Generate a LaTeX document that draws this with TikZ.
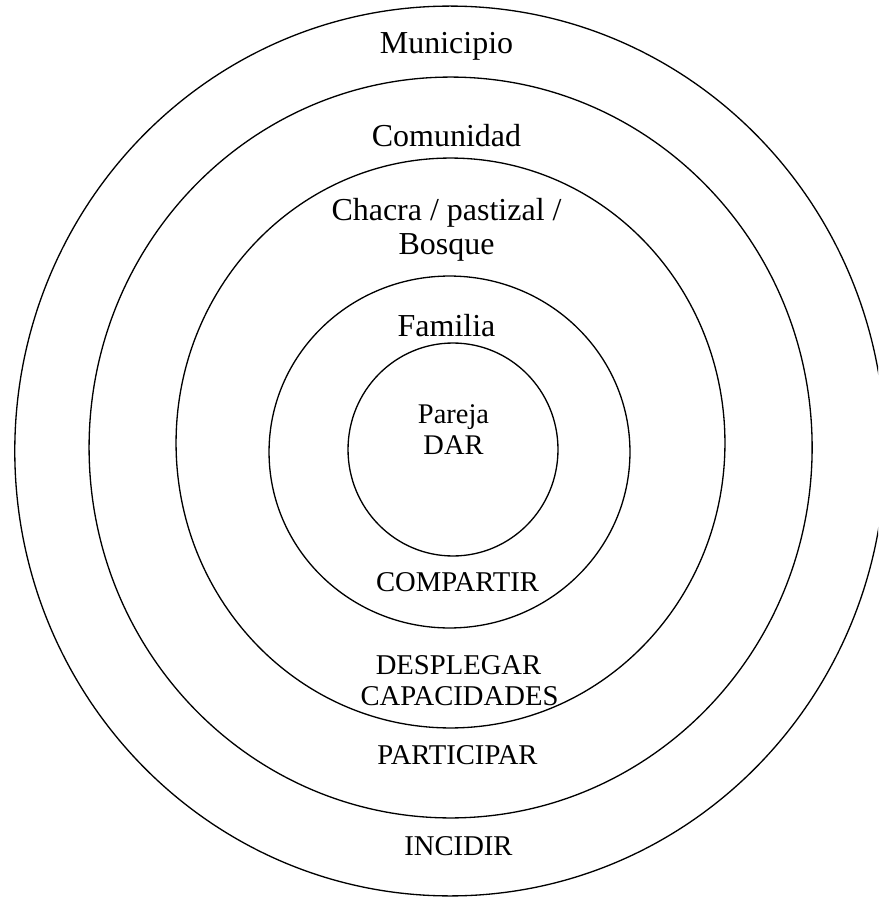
\documentclass[tikz,border=0pt]{standalone}
\usepackage{fontspec}
\setmainfont{Liberation Serif}
\tikzset{
  ring/.style={draw=black, line width=0.75pt},
  biglabel/.style={anchor=base, inner sep=0pt, font=\fontsize{18.2}{21}\selectfont},
  smalllabel/.style={anchor=base, inner sep=0pt, font=\fontsize{16.3}{19}\selectfont},
  midlabel/.style={anchor=base, inner sep=0pt, font=\fontsize{16.2}{19}\selectfont}
}
\begin{document}
\begin{tikzpicture}[x=0.02cm, y=-0.02cm]
\useasboundingbox (0,0) rectangle (878,898);
\begin{scope}
\clip (0,0) rectangle (878,898);
\draw[ring] (450,451) ellipse [x radius=8.706cm, y radius=8.9cm];
\draw[ring] (450.6,447.5) ellipse [x radius=7.232cm, y radius=7.41cm];
\draw[ring] (450.5,443) ellipse [x radius=5.49cm, y radius=5.7cm];
\draw[ring] (449.5,452) ellipse [x radius=3.61cm, y radius=3.52cm];
\draw[ring] (453,449.5) ellipse [x radius=2.1cm, y radius=2.13cm];
\end{scope}
\node[biglabel] (municipio) at (446.5,54) {Municipio};
\node[biglabel] (comunidad) at (446.5,147) {Comunidad};
\node[biglabel] (chacra) at (446.5,221) {Chacra / pastizal /};
\node[biglabel] (bosque) at (446.5,255) {Bosque};
\node[biglabel] (familia) at (446.5,336) {Familia};
\node[midlabel] (pareja) at (453.5,423) {Pareja};
\node[midlabel] (dar) at (453.5,454) {DAR};
\node[smalllabel] (compartir) at (457.5,591) {COMPARTIR};
\node[smalllabel] (desplegar) at (458.5,674) {DESPLEGAR};
\node[smalllabel] (capacidades) at (459.5,705) {CAPACIDADES};
\node[smalllabel] (participar) at (457.5,764) {PARTICIPAR};
\node[smalllabel] (incidir) at (458.5,855) {INCIDIR};
\end{tikzpicture}
\end{document}
